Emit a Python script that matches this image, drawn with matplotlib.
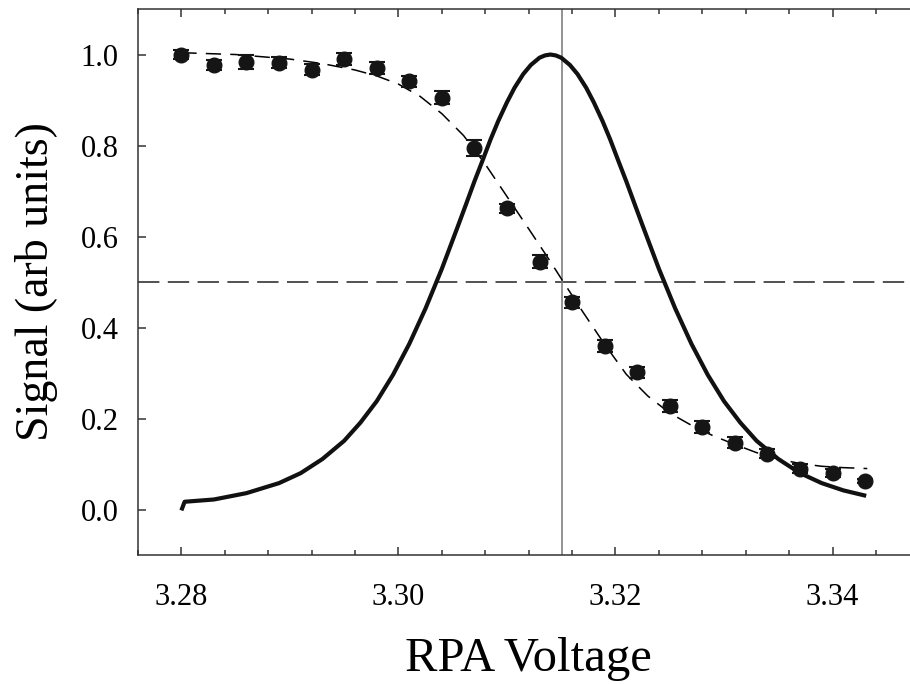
import matplotlib
matplotlib.use("Agg")
import matplotlib.pyplot as plt
from matplotlib.ticker import FormatStrFormatter, MultipleLocator

plt.rcParams['font.family'] = ['Liberation Serif', 'DejaVu Serif']

# measured points
volt = [3.280, 3.283, 3.286, 3.289, 3.292, 3.295, 3.298, 3.301, 3.304, 3.307, 3.310,
        3.313, 3.316, 3.319, 3.322, 3.325, 3.328, 3.331, 3.334, 3.337, 3.340, 3.343]
signal = [1.000, 0.977, 0.984, 0.982, 0.967, 0.991, 0.971, 0.941, 0.905, 0.795, 0.662,
          0.545, 0.455, 0.359, 0.302, 0.227, 0.181, 0.147, 0.123, 0.090, 0.080, 0.063]
err = [0.010, 0.011, 0.015, 0.012, 0.012, 0.013, 0.013, 0.012, 0.014, 0.018, 0.010,
       0.014, 0.012, 0.013, 0.012, 0.013, 0.013, 0.012, 0.010, 0.009, 0.008, 0.005]

# fitted step (dashed)
fit_x = [3.2800, 3.2850, 3.2900, 3.2930, 3.2960, 3.2980, 3.3000, 3.3020, 3.3040, 3.3060,
         3.3080, 3.3100, 3.3120, 3.3140, 3.3152, 3.3170, 3.3190, 3.3210, 3.3230, 3.3250,
         3.3270, 3.3290, 3.3310, 3.3330, 3.3350, 3.3370, 3.3390, 3.3410, 3.3432]
fit_y = [1.004, 1.000, 0.990, 0.980, 0.966, 0.953, 0.935, 0.908, 0.870, 0.822,
         0.759, 0.688, 0.617, 0.545, 0.500, 0.434, 0.363, 0.297, 0.249, 0.212,
         0.185, 0.162, 0.143, 0.125, 0.111, 0.101, 0.095, 0.092, 0.090]

# derivative peak (solid)
peak_x = [3.2800, 3.2803, 3.2830, 3.2860, 3.2890, 3.2910, 3.2930, 3.2950, 3.2965, 3.2980,
          3.2995, 3.3010, 3.3025, 3.3040, 3.3055, 3.3062, 3.3070, 3.3077, 3.3085, 3.3092,
          3.3100, 3.3107, 3.3115, 3.3122, 3.3130, 3.3135, 3.3140, 3.3145, 3.3150, 3.3158,
          3.3165, 3.3173, 3.3180, 3.3188, 3.3195, 3.3203, 3.3210, 3.3218, 3.3225, 3.3240,
          3.3255, 3.3270, 3.3285, 3.3300, 3.3315, 3.3330, 3.3350, 3.3370, 3.3390, 3.3410,
          3.3431]
peak_y = [-0.002, 0.017, 0.022, 0.036, 0.058, 0.080, 0.111, 0.151, 0.191, 0.238,
          0.296, 0.364, 0.442, 0.529, 0.624, 0.669, 0.721, 0.764, 0.814, 0.854,
          0.895, 0.927, 0.957, 0.977, 0.993, 0.998, 1.000, 0.998, 0.993, 0.977,
          0.957, 0.927, 0.895, 0.854, 0.814, 0.764, 0.721, 0.669, 0.624, 0.529,
          0.442, 0.364, 0.296, 0.238, 0.191, 0.151, 0.111, 0.080, 0.058, 0.042,
          0.030]

half_level = 0.5
centre_v = 3.3151

fig = plt.figure(figsize=(9.1, 6.84), dpi=100)
ax = fig.add_axes([0.1516, 0.1886, 0.8587, 0.7982])

ax.axhline(half_level, color='#222222', lw=1.1, dashes=(14, 5.5))
ax.axvline(centre_v, color='#808080', lw=1.2)
ax.plot(fit_x, fit_y, color='black', lw=1.1, dashes=(10, 6))
ax.plot(peak_x, peak_y, color='#111111', lw=3.0, solid_capstyle='butt',
        solid_joinstyle='round')
ax.errorbar(volt, signal, yerr=err, fmt='o', color='#151515', ms=10.5,
            capsize=6, elinewidth=1.2, capthick=1.5, zorder=5)

ax.set_xlim(3.276, 3.348)
ax.set_ylim(-0.1, 1.1)
ax.xaxis.set_major_locator(MultipleLocator(0.02))
ax.xaxis.set_minor_locator(MultipleLocator(0.004))
ax.xaxis.set_major_formatter(FormatStrFormatter('%.2f'))
ax.yaxis.set_major_formatter(FormatStrFormatter('%.1f'))
ax.set_yticks([0.0, 0.2, 0.4, 0.6, 0.8, 1.0])

ax.tick_params(axis='x', which='both', direction='in', top=True, bottom=True,
               labelsize=22, pad=20, width=1.1, color='#333333')
ax.tick_params(axis='x', which='major', length=6)
ax.tick_params(axis='x', which='minor', length=3.8)
ax.tick_params(axis='y', which='major', direction='in', left=True, right=False,
               labelsize=22, pad=14, length=6, width=1.1, color='#333333')

for s in ax.spines.values():
    s.set_linewidth(1.1)
    s.set_color('#333333')

ax.set_xlabel('RPA Voltage', fontsize=35, labelpad=18)
ax.set_ylabel('Signal (arb units)', fontsize=33, labelpad=16)

fig.savefig('out.png', dpi=100)
